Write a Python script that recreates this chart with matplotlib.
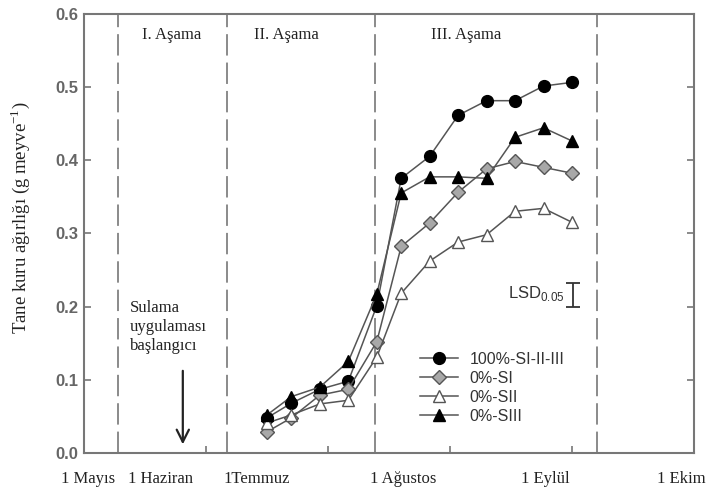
import matplotlib.pyplot as plt
from matplotlib.ticker import FixedLocator

# days after 1 May (weekly samples)
days = [45, 51, 58, 65, 72, 78, 85, 92, 99, 106, 113, 120]

full_irr = [0.048, 0.068, 0.087, 0.098, 0.201, 0.375, 0.405, 0.461, 0.481, 0.481, 0.501, 0.506]
no_si = [0.029, 0.048, 0.079, 0.087, 0.152, 0.282, 0.314, 0.356, 0.388, 0.398, 0.390, 0.382]
no_sii = [0.041, 0.052, 0.067, 0.072, 0.131, 0.218, 0.262, 0.288, 0.298, 0.330, 0.334, 0.315]
no_siii = [0.052, 0.077, 0.090, 0.125, 0.217, 0.355, 0.377, 0.377, 0.375, 0.431, 0.444, 0.426]

series_labels = ["100%-SI-II-III", "0%-SI", "0%-SII", "0%-SIII"]

stage_bounds = [8.4, 35.2, 71.6, 126.1]
stage_names = ["I. Aşama", "II. Aşama", "III. Aşama"]
stage_pos = [21.6, 49.7, 93.9]

month_pos = [1.0, 18.9, 42.5, 78.4, 113.4, 147.0]
month_names = ["1 Mayıs", "1 Haziran", "1Temmuz", "1 Ağustos", "1 Eylül", "1 Ekim"]
month_ticks = [30, 60, 90, 120]

lsd = 0.033

serif = "Liberation Serif"
sans = "Liberation Sans"
line_col = "#555555"
frame_col = "#777777"

plt.rcParams["mathtext.fontset"] = "custom"
plt.rcParams["mathtext.rm"] = serif
plt.rcParams["mathtext.sf"] = sans

fig = plt.figure(figsize=(7.07, 4.88), dpi=100)
ax = fig.add_axes([0.1188, 0.0717, 0.8628, 0.9006])

for x in stage_bounds:
    ax.axvline(x, color="#8a8a8a", lw=1.4, dashes=(11, 3.6), zorder=1)

for name, x in zip(stage_names, stage_pos):
    ax.text(x, 0.571, name, ha="center", va="center", family=serif,
            fontsize=12, color="#222222")

ax.plot(days, full_irr, color=line_col, lw=1.1, marker="o", ms=8.5,
        mfc="black", mec="black", label=series_labels[0], zorder=3)
ax.plot(days, no_si, color=line_col, lw=1.1, marker="D", ms=7.5,
        mfc="#a8a8a8", mec="#555555", mew=1.0, label=series_labels[1], zorder=3)
ax.plot(days, no_sii, color=line_col, lw=1.1, marker="^", ms=8.5,
        mfc="white", mec="#555555", mew=1.0, label=series_labels[2], zorder=3)
ax.plot(days, no_siii, color=line_col, lw=1.1, marker="^", ms=8.5,
        mfc="black", mec="black", label=series_labels[3], zorder=3)

# LSD bar
ax.errorbar([120.2], [0.216], yerr=[lsd / 2], color="#333333", lw=1.3,
            capsize=5, capthick=1.3)
ax.text(104.3, 0.218, r"LSD$_{\mathsf{0.05}}$", ha="left", va="center",
        family=sans, fontsize=12, color="#333333")

# irrigation start arrow
ax.annotate("", xy=(24.3, 0.008), xytext=(24.3, 0.116),
            arrowprops=dict(arrowstyle="->", color="#222222", lw=1.6,
                            mutation_scale=22))
ax.text(11.3, 0.209, "Sulama\nuygulaması\nbaşlangıcı", ha="left", va="top",
        family=serif, fontsize=12, color="#222222", linespacing=1.25)

leg = ax.legend(loc="upper left", bbox_to_anchor=(0.538, 0.248), frameon=False,
                borderpad=0, handlelength=2.4, handletextpad=0.7,
                labelspacing=0.25, prop={"family": sans, "size": 11.5})
for t in leg.get_texts():
    t.set_color("#333333")

ax.set_xlim(0, 150)
ax.set_ylim(0, 0.6)
ax.set_yticks([0.0, 0.1, 0.2, 0.3, 0.4, 0.5, 0.6])
ax.set_yticklabels([f"{v:.1f}" for v in ax.get_yticks()], family=sans,
                   fontsize=12, color="#666666", fontweight="bold")
ax.tick_params(axis="y", direction="in", length=5, width=1.2, color=frame_col,
               right=True, pad=4)

ax.set_xticks(month_pos)
ax.set_xticklabels(month_names, family=serif, fontsize=12, color="#222222")
ax.tick_params(axis="x", which="major", length=0, pad=13)
ax.xaxis.set_minor_locator(FixedLocator(month_ticks))
ax.tick_params(axis="x", which="minor", direction="in", length=5, width=1.2,
               color=frame_col)

for s in ax.spines.values():
    s.set_color(frame_col)
    s.set_linewidth(1.5)

ax.set_ylabel(r"Tane kuru ağırlığı (g meyve$^{\mathrm{-1}}$)", family=serif,
              fontsize=13.5, color="#222222")
ax.yaxis.set_label_coords(-0.086, 0.535)

fig.savefig("out.png", dpi=100)
